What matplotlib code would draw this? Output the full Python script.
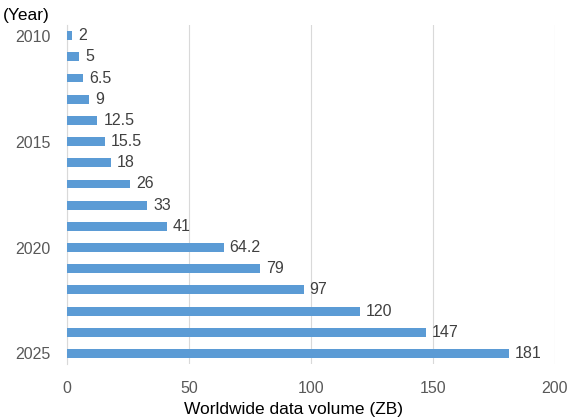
import matplotlib.pyplot as plt

plt.rcParams['font.family'] = ['Liberation Sans', 'DejaVu Sans']

anos = list(range(2010, 2026))
volumes = [2, 5, 6.5, 9, 12.5, 15.5, 18, 26, 33, 41, 64.2, 79, 97, 120, 147, 181]
rotulos = ['2', '5', '6.5', '9', '12.5', '15.5', '18', '26', '33', '41', '64.2', '79', '97', '120', '147', '181']
ticks_ano = [2010, 2015, 2020, 2025]
ticks_x = [0, 50, 100, 150, 200]

fig = plt.figure(figsize=(5.75, 4.18), dpi=100)
ax = fig.add_axes([0.1165, 0.129, 0.8485, 0.811])

ax.barh(anos, volumes, height=0.42, color='#5b9bd5', zorder=3)
for ano, v, r in zip(anos, volumes, rotulos):
    ax.text(v + 2.5, ano, r, va='center', ha='left', fontsize=11.5, color='#404040')

ax.set_xlim(0, 200)
ax.set_ylim(2025.5, 2009.5)
ax.set_xticks(ticks_x)
ax.set_yticks(ticks_ano)
ax.tick_params(axis='y', length=0, labelsize=11.5, labelcolor='#595959', pad=12)
ax.tick_params(axis='x', length=0, labelsize=11.5, labelcolor='#595959', pad=12)
ax.grid(axis='x', color='#d9d9d9', linewidth=0.8, zorder=0)
for s in ['top', 'right', 'bottom']:
    ax.spines[s].set_visible(False)
ax.spines['left'].set_color('#d9d9d9')
ax.set_xlabel('Worldwide data volume (ZB)', fontsize=12.5, va='center')
ax.xaxis.set_label_coords(0.465, -0.133)
fig.text(0.005, 0.962, '(Year)', fontsize=12.5, va='center', ha='left')

plt.savefig('out.png')
